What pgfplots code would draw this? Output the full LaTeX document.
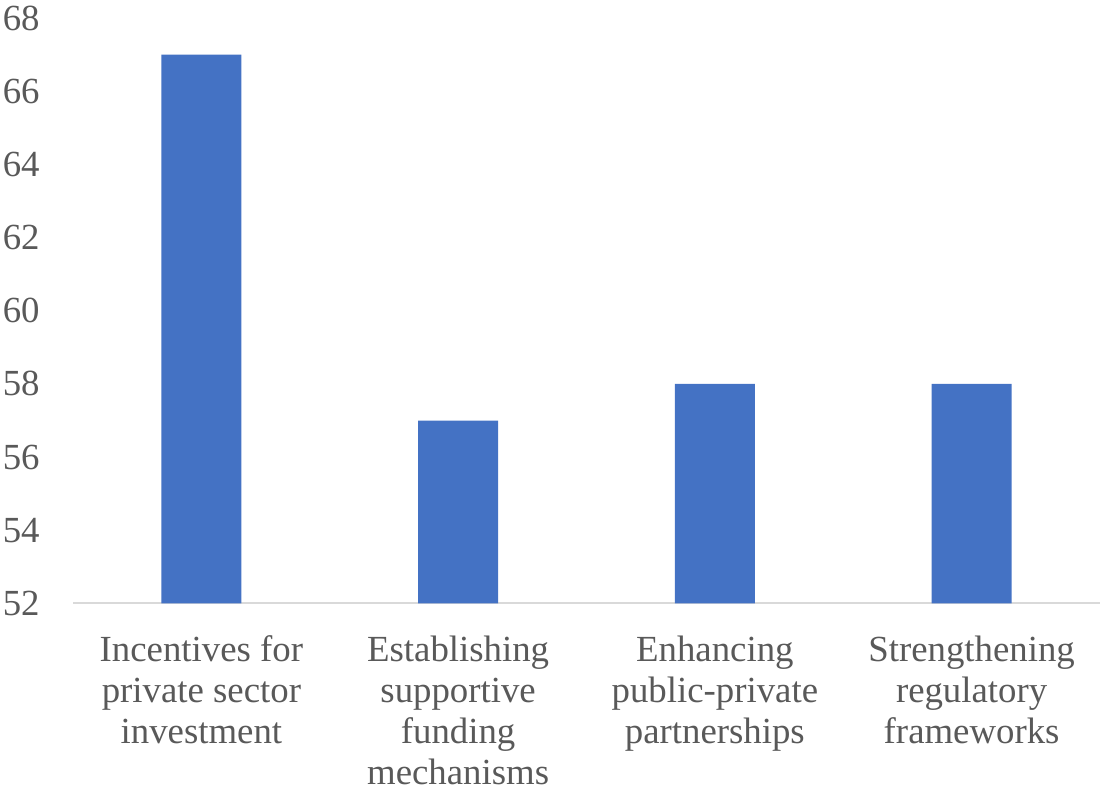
\documentclass[border=0pt]{standalone}
\usepackage{fontspec}
\setmainfont{Liberation Serif}
\usepackage{pgfplots}
\pgfplotsset{compat=1.18}
\definecolor{barblue}{HTML}{4472C4}
\definecolor{txtgray}{HTML}{595959}
\definecolor{axgray}{HTML}{D9D9D9}
\begin{document}
\begin{tikzpicture}
\path[use as bounding box] (0,0) rectangle (550pt,396.5pt);
\begin{axis}[
  at={(36.5pt,94.75pt)}, anchor=south west,
  width=513.5pt, height=292.75pt, scale only axis,
  ymin=52, ymax=68, ytick={52,54,...,68},
  xmin=-0.5, xmax=3.5, xtick={0,1,2,3},
  xticklabels={{Incentives for\\private sector\\investment},
               {Establishing\\supportive\\funding\\mechanisms},
               {Enhancing\\public-private\\partnerships},
               {Strengthening\\regulatory\\frameworks}},
  axis x line*=bottom, axis y line*=left,
  x axis line style={axgray, line width=1pt, -},
  y axis line style={draw=none},
  major tick length=0pt,
  tick style={draw=none},
  /pgf/number format/assume math mode=true,
  tick label style={txtgray, font=\fontsize{18.4}{20.5}\selectfont, inner sep=0pt},
  xticklabel style={align=center, anchor=north},
  xticklabel shift=16pt,
  yticklabel style={anchor=east},
  yticklabel shift=16.5pt,
  clip=false,
]
\addplot[ybar, bar width=40pt, fill=barblue, draw=none] coordinates {(0,67) (1,57) (2,58) (3,58)};
\end{axis}
\end{tikzpicture}
\end{document}
